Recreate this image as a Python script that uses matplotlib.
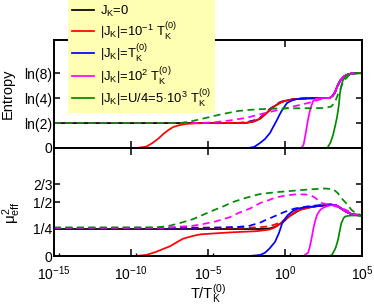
import numpy as np
import matplotlib
matplotlib.use('Agg')
import matplotlib.pyplot as plt
from matplotlib.ticker import FixedLocator, NullFormatter, NullLocator

plt.rcParams['font.family'] = ['Liberation Sans', 'DejaVu Sans']
plt.rcParams['mathtext.fontset'] = 'custom'
plt.rcParams['mathtext.rm'] = 'Liberation Sans'
plt.rcParams['mathtext.it'] = 'Liberation Sans'
plt.rcParams['mathtext.bf'] = 'Liberation Sans:bold'
plt.rcParams['mathtext.sf'] = 'Liberation Sans'
plt.rcParams['font.size'] = 10

# ---------------- data (log10 T/T_K^(0), value) ----------------
labels = [r'$J_K$=0',
          r'$|J_K|$=10$^{-1}$ T$_K^{(0)}$',
          r'$|J_K|$=T$_K^{(0)}$',
          r'$|J_K|$=10$^{2}$ T$_K^{(0)}$',
          r'$|J_K|$=U/4=5·10$^{3}$ T$_K^{(0)}$']
colors = ['black', 'red', 'blue', 'magenta', '#008c00']

xticks_log = [-15, -10, -5, 0, 5]
S_ticks = [0, np.log(2), np.log(4), np.log(8)]
S_ticklabels = ['0', 'ln(2)', 'ln(4)', 'ln(8)']
M_ticks = [0, 0.25, 0.5, 2 / 3]
M_ticklabels = ['0', '1/4', '1/2', '2/3']

# common high-T tail of the entropy (ln4 -> ln8)
S_tail_lt = [3.1, 3.25, 3.4, 3.6, 3.8, 4.0, 4.3, 4.7, 5.0]
S_tail = [1.45, 1.55, 1.72, 1.88, 1.98, 2.03, 2.07, 2.079, 2.079]

# Entropy, solid
S0_lt = [-15, -3.5, -3.0, -2.5, -2.0, -1.6, -1.3, -1.0, -0.65, -0.3, 0.0, 0.5, 1.0, 2.0, 2.9]
S0 = [0.693, 0.693, 0.695, 0.70, 0.74, 0.82, 0.93, 1.05, 1.17, 1.26, 1.31, 1.35, 1.37, 1.385, 1.39]
S1_lt = [-15, -9.6, -9.0, -8.6, -8.2, -7.9, -7.6, -7.27, -6.9, -6.4, -5.8, -5.0, -3.0, -2.5, -2.0,
         -1.6, -1.3, -1.0, -0.65, -0.3, 0.0, 0.5, 1.0, 2.0, 2.9]
S1 = [0, 0, 0.04, 0.14, 0.27, 0.39, 0.49, 0.58, 0.63, 0.67, 0.685, 0.693, 0.695, 0.70, 0.74,
      0.82, 0.93, 1.05, 1.17, 1.26, 1.31, 1.35, 1.37, 1.385, 1.39]
S2_lt = [-15, -2.4, -2.0, -1.62, -1.3, -0.97, -0.75, -0.52, -0.35, -0.19, 0.13, 0.5, 0.78, 1.3, 2.0, 2.9]
S2 = [0, 0, 0.03, 0.14, 0.25, 0.42, 0.60, 0.78, 0.93, 1.05, 1.25, 1.33, 1.36, 1.38, 1.386, 1.39]
S3_lt = [-15, 1.05, 1.2, 1.3, 1.4, 1.49, 1.6, 1.69, 1.82, 2.0, 2.3, 2.9]
S3 = [0, 0, 0.08, 0.30, 0.55, 0.78, 1.0, 1.14, 1.30, 1.37, 1.385, 1.39]
S4_lt = [-15, 2.75, 2.95, 3.12, 3.25, 3.38, 3.5, 3.57, 3.67, 3.77, 3.95, 4.22, 4.6, 5.0]
S4 = [0, 0, 0.15, 0.36, 0.60, 0.86, 1.20, 1.53, 1.75, 1.89, 2.0, 2.05, 2.075, 2.079]

# Entropy, dashed
S1d_lt = [-15, -3.0, -2.5, -2.0, -1.6, -1.3, -1.0, -0.65, -0.3, 0.0, 0.5, 1.0, 2.0, 2.9]
S1d = [0.693, 0.695, 0.70, 0.745, 0.83, 0.94, 1.06, 1.18, 1.27, 1.31, 1.35, 1.37, 1.385, 1.39]
S2d_lt = [-15, -3.0, -2.5, -2.0, -1.6, -1.3, -1.0, -0.65, -0.3, 0.0, 0.5, 1.0, 2.0, 2.9]
S2d = [0.693, 0.70, 0.72, 0.77, 0.85, 0.96, 1.08, 1.19, 1.28, 1.32, 1.35, 1.37, 1.385, 1.39]
S3d_lt = [-15, -5.5, -4.5, -3.5, -2.5, -1.5, -0.5, 0.5, 1.5, 2.2, 2.6, 2.9]
S3d = [0.693, 0.693, 0.72, 0.77, 0.84, 0.95, 1.05, 1.15, 1.25, 1.34, 1.38, 1.39]
S4d_lt = [-15, -6.8, -6.0, -5.0, -4.0, -3.0, -2.0, -1.0, 0.0, 2.5, 3.0, 3.25, 3.4, 3.57, 3.75, 3.9, 4.2, 4.6, 5.0]
S4d = [0.693, 0.693, 0.75, 0.85, 0.95, 1.03, 1.07, 1.09, 1.10, 1.11, 1.15, 1.28, 1.45, 1.61, 1.80, 1.90, 2.04, 2.075, 2.079]

# common high-T tail of mu^2_eff
M_tail_lt = [3.3, 3.6, 3.9, 4.2, 4.5, 5.0]
M_tail = [0.47, 0.445, 0.415, 0.395, 0.38, 0.375]

# mu^2_eff, solid
M0_lt = [-15, -1.6, -1.0, -0.65, -0.3, 0.0, 0.3, 0.65, 1.0, 1.6, 2.2, 2.9]
M0 = [0.25, 0.25, 0.255, 0.27, 0.30, 0.33, 0.37, 0.40, 0.43, 0.45, 0.465, 0.475]
M1_lt = [-15, -9.7, -9.0, -8.44, -8.0, -7.47, -7.0, -6.62, -6.0, -5.52, -4.5, -3.38, -1.82, -1.0,
         -0.65, -0.3, 0.19, 0.5, 0.84, 1.3, 1.8, 2.4, 2.9]
M1 = [0, 0, 0.01, 0.035, 0.06, 0.09, 0.13, 0.16, 0.185, 0.20, 0.21, 0.22, 0.23, 0.245,
      0.265, 0.30, 0.36, 0.39, 0.42, 0.44, 0.455, 0.468, 0.475]
M2_lt = [-15, -2.3, -1.6, -1.3, -1.0, -0.65, -0.4, -0.19, 0.0, 0.19, 0.5, 0.84, 1.5, 2.4, 3.0]
M2 = [0, 0, 0.01, 0.03, 0.07, 0.13, 0.21, 0.30, 0.345, 0.38, 0.415, 0.44, 0.455, 0.465, 0.475]
M3_lt = [-15, 1.2, 1.5, 1.62, 1.75, 1.85, 1.95, 2.08, 2.25, 2.4, 2.7, 3.0]
M3 = [0, 0, 0.03, 0.09, 0.18, 0.26, 0.32, 0.38, 0.42, 0.44, 0.46, 0.47]
M4_lt = [-15, 2.9, 3.05, 3.2, 3.3, 3.44, 3.55, 3.65, 3.8, 3.9, 4.1, 4.3, 5.0]
M4 = [0, 0, 0.01, 0.05, 0.08, 0.15, 0.23, 0.30, 0.35, 0.365, 0.372, 0.375, 0.375]

# mu^2_eff, dashed
M1d_lt = [-15, -3.0, -1.8, -1.0, -0.3, 0.2, 0.8, 1.5, 2.2, 2.9]
M1d = [0.26, 0.262, 0.265, 0.275, 0.31, 0.36, 0.42, 0.45, 0.465, 0.475]
M2d_lt = [-15, -5.0, -4.0, -3.0, -2.3, -1.6, -1.3, -0.65, 0.0, 0.65, 1.5, 2.5, 3.2]
M2d = [0.26, 0.262, 0.265, 0.27, 0.28, 0.31, 0.33, 0.37, 0.41, 0.44, 0.46, 0.475, 0.48]
M3d_lt = [-15, -8.0, -7.0, -6.0, -5.52, -4.5, -3.57, -3.0, -2.27, -1.62, -1.0, -0.65, 0.0, 0.65,
          1.3, 1.7, 1.95, 2.2, 2.4, 2.7, 3.05, 3.5, 3.9, 4.2, 4.55, 5.0]
M3d = [0.26, 0.26, 0.27, 0.28, 0.29, 0.32, 0.36, 0.40, 0.44, 0.49, 0.52, 0.54, 0.56, 0.57,
       0.57, 0.56, 0.54, 0.51, 0.49, 0.48, 0.47, 0.45, 0.43, 0.41, 0.39, 0.375]
M4d_lt = [-15, -8.5, -8.0, -7.5, -6.82, -6.0, -5.5, -4.87, -4.0, -3.38, -2.5, -1.62, -0.65, 0.2,
          1.0, 1.95, 2.6, 3.0, 3.2, 3.44, 3.7, 3.9, 4.09, 4.3, 4.55, 5.0]
M4d = [0.265, 0.265, 0.27, 0.28, 0.305, 0.34, 0.37, 0.41, 0.46, 0.50, 0.54, 0.574, 0.59, 0.60,
       0.61, 0.62, 0.625, 0.62, 0.61, 0.58, 0.53, 0.50, 0.47, 0.43, 0.40, 0.375]

# ---------------- figure ----------------
W, H = 374, 306
fig = plt.figure(figsize=(W / 100, H / 100), dpi=100)
L, R = 54, 362
axS = fig.add_axes([L / W, (H - 148) / H, (R - L) / W, 108 / H])
axM = fig.add_axes([L / W, (H - 256) / H, (R - L) / W, 108 / H])

LW = 1.25
DASH = (0, (4.0, 2.6))


def T(lt):
    return 10.0 ** np.asarray(lt, dtype=float)


# entropy panel
axS.plot(T(S0_lt + S_tail_lt), S0 + S_tail, color=colors[0], lw=LW)
axS.plot(T(S2d_lt + S_tail_lt), S2d + S_tail, color=colors[2], lw=LW, ls=DASH)
axS.plot(T(S1_lt + S_tail_lt), S1 + S_tail, color=colors[1], lw=LW)
axS.plot(T(S1d_lt + S_tail_lt), S1d + S_tail, color=colors[1], lw=LW, ls=DASH)
axS.plot(T(S2_lt + S_tail_lt), S2 + S_tail, color=colors[2], lw=LW)
axS.plot(T(S3_lt + S_tail_lt), S3 + S_tail, color=colors[3], lw=LW)
axS.plot(T(S4_lt), S4, color=colors[4], lw=LW)
axS.plot(T(S3d_lt + S_tail_lt), S3d + S_tail, color=colors[3], lw=LW, ls=DASH)
axS.plot(T(S4d_lt), S4d, color=colors[4], lw=LW, ls=DASH)

# mu^2 panel
axM.plot(T(M0_lt + M_tail_lt), M0 + M_tail, color=colors[0], lw=LW)
axM.plot(T(M1_lt + M_tail_lt), M1 + M_tail, color=colors[1], lw=LW)
axM.plot(T(M1d_lt + M_tail_lt), M1d + M_tail, color=colors[1], lw=LW, ls=DASH)
axM.plot(T(M2d_lt + M_tail_lt), M2d + M_tail, color=colors[2], lw=LW, ls=DASH)
axM.plot(T(M2_lt + M_tail_lt), M2 + M_tail, color=colors[2], lw=LW)
axM.plot(T(M3_lt + M_tail_lt), M3 + M_tail, color=colors[3], lw=LW)
axM.plot(T(M4_lt), M4, color=colors[4], lw=LW)
axM.plot(T(M3d_lt), M3d, color=colors[3], lw=LW, ls=DASH)
axM.plot(T(M4d_lt), M4d, color=colors[4], lw=LW, ls=DASH)

for ax in (axS, axM):
    ax.set_xscale('log')
    ax.set_xlim(1e-15, 1e5)
    for s in ax.spines.values():
        s.set_linewidth(1.4)
    ax.xaxis.set_major_locator(FixedLocator([10.0 ** k for k in xticks_log]))
    ax.xaxis.set_minor_locator(NullLocator())
    ax.tick_params(axis='x', which='major', direction='in', top=True, bottom=True,
                   length=5, width=1.1, pad=6, labelsize=10)
    ax.tick_params(axis='y', which='major', direction='in', right=True, left=True,
                   length=4, width=1.1)

axS.set_ylim(0, 3.0)
axS.set_yticks(S_ticks)
axS.set_yticklabels(S_ticklabels)
axS.xaxis.set_major_formatter(NullFormatter())
axM.set_ylim(0, 1.0)
axM.set_yticks(M_ticks)
axM.set_yticklabels(M_ticklabels)
axM.set_xticklabels([r'$10^{%d}$' % k for k in xticks_log])
axM.xaxis.set_minor_locator(FixedLocator([2 * 10.0 ** k for k in xticks_log[:-1]]))
axM.tick_params(axis='x', which='minor', direction='in', top=False, bottom=True, length=2.5, width=1.0)

# left ticks point outward, right ticks inward
for ax in (axS, axM):
    for t in ax.yaxis.get_major_ticks():
        t.tick1line.set_marker(matplotlib.lines.TICKLEFT)
        t.tick1line.set_markersize(4)
    ax.tick_params(axis='y', pad=1, labelsize=10)

axS.set_ylabel('Entropy', fontsize=10.5)
axS.yaxis.set_label_coords(-0.128, 0.5)
axM.set_ylabel(r'$\mu^2_{\rm eff}$', fontsize=11)
axM.yaxis.set_label_coords(-0.10, 0.40)
axM.set_xlabel(r'T/T$_K^{(0)}$', fontsize=10.5, labelpad=0)

# legend
handles = [matplotlib.lines.Line2D([], [], color=c, lw=LW) for c in colors]
leg = axS.legend(handles, labels, loc='lower left',
                 bbox_to_anchor=(68 / W, (H - 113) / H), bbox_transform=fig.transFigure,
                 fontsize=9.4, frameon=True, fancybox=False, framealpha=1,
                 facecolor='#ffffb4', edgecolor='none', borderpad=0.3,
                 labelspacing=0.06, handlelength=1.7, handletextpad=0.45,
                 borderaxespad=0)
leg.set_zorder(10)

fig.savefig('out.png', dpi=100)
